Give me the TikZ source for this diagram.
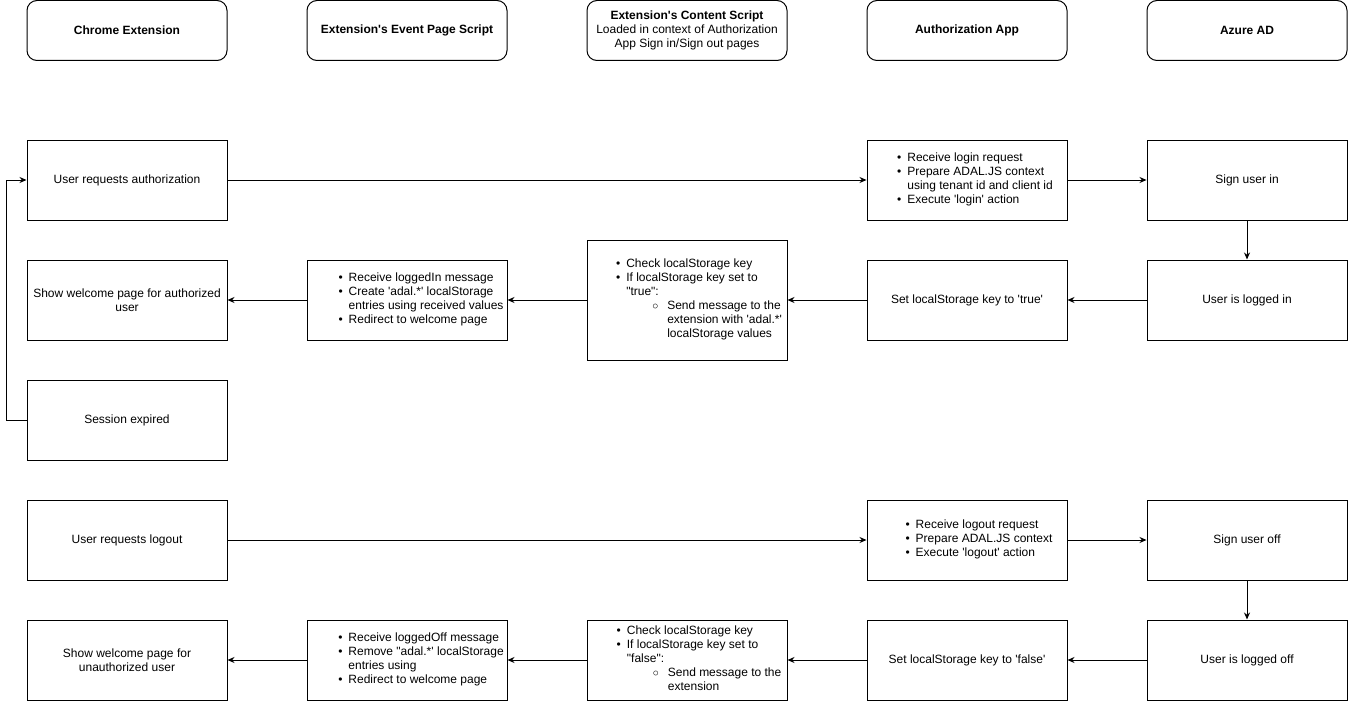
\documentclass[tikz,border=0pt]{standalone}
\usepackage{fontspec}
\setmainfont{Liberation Sans}[Ligatures=TeXOff]
\usetikzlibrary{arrows.meta}

\newcommand{\steplist}[2][20pt]{\begin{tabular}{@{\hspace{#1}}l@{\hspace{6pt}}l@{}}#2\end{tabular}}
\newcommand{\subitm}{\makebox[41pt][r]{$\circ$\hspace{9pt}}}
\newcommand{\subcont}{\hspace{41pt}}

\tikzset{
  lane/.style={draw, rounded corners=10pt, minimum width=200pt, minimum height=60pt, inner sep=0pt, align=center},
  stepbox/.style={draw, minimum width=200pt, minimum height=80pt, inner sep=0pt, align=center},
  flow/.style={-{Stealth[length=7pt,width=6pt]}},
  every node/.style={font=\fontsize{12}{14}\selectfont},
}

\begin{document}
\begin{tikzpicture}[x=1pt, y=-1pt, line width=1pt]
                \useasboundingbox (0,0) rectangle (1348,706);

                % Lanes
                \node[lane] (chrome) at (127,30.5) {\textbf{Chrome Extension}};
                \node[lane] (eventpg) at (407,30.5) {\textbf{Extension's Event Page Script}};
                \node[lane] (content) at (687,30.5) {\textbf{Extension's Content Script}\\Loaded in context of Authorization\\App Sign in/Sign out pages};
                \node[lane] (authapp) at (967,30.5) {\textbf{Authorization App}};
                \node[lane] (azure) at (1247,30.5) {\textbf{Azure AD}};

                % Login
                \node[stepbox] (req) at (127,180) {User requests authorization};
                \node[stepbox] (auth) at (967,180) {\steplist[16pt]{\textbullet & Receive login request\\
                  \textbullet & Prepare ADAL.JS context\\
                  & using tenant id and client id\\
                  \textbullet & Execute 'login' action}};
                \node[stepbox] (signin) at (1247,180) {Sign user in};
                \node[stepbox] (loggedin) at (1247,300) {User is logged in};
                \node[stepbox] (setkey) at (967,300) {Set localStorage key to 'true'};
                \node[stepbox, minimum height=120pt] (check) at (687,300) {\steplist[24pt]{\textbullet & Check localStorage key\\
                  \textbullet & If localStorage key set to\\
                  & "true":\\
                  & \subitm Send message to the\\
                  & \subcont extension with 'adal.*'\\
                  & \subcont localStorage values}};
                \node[stepbox] (recv) at (407,300) {\steplist[28pt]{\textbullet & Receive loggedIn message\\
                  \textbullet & Create 'adal.*' localStorage\\
                  & entries using received values\\
                  \textbullet & Redirect to welcome page}};
                \node[stepbox] (welcome) at (127,300) {Show welcome page for authorized\\user};
                \node[stepbox] (expired) at (127,420) {Session expired};

                % Logout
                \node[stepbox] (logout) at (127,540) {User requests logout};
                \node[stepbox] (authout) at (967,540) {\steplist[24pt]{\textbullet & Receive logout request\\
                  \textbullet & Prepare ADAL.JS context\\
                  \textbullet & Execute 'logout' action}};
                \node[stepbox] (signoff) at (1247,540) {Sign user off};
                \node[stepbox] (loggedoff) at (1247,660) {User is logged off};
                \node[stepbox] (setkeyoff) at (967,660) {Set localStorage key to 'false'};
                \node[stepbox] (checkoff) at (687,660) {\steplist[24pt]{\textbullet & Check localStorage key\\
                  \textbullet & If localStorage key set to\\
                  & "false":\\
                  & \subitm Send message to the\\
                  & \subcont extension}};
                \node[stepbox] (recvoff) at (407,660) {\steplist[28pt]{\textbullet & Receive loggedOff message\\
                  \textbullet & Remove "adal.*' localStorage\\
                  & entries using\\
                  \textbullet & Redirect to welcome page}};
                \node[stepbox] (welcomeoff) at (127,660) {Show welcome page for\\unauthorized user};

                % Arrows
                \draw[flow] (req) -- (auth);
                \draw[flow] (auth) -- (signin);
                \draw[flow] (signin) -- (loggedin);
                \draw[flow] (loggedin) -- (setkey);
                \draw[flow] (setkey) -- (check);
                \draw[flow] (check) -- (recv);
                \draw[flow] (recv) -- (welcome);
                \draw[flow] (expired.west) -- ++(-20,0) |- (req.west);

                \draw[flow] (logout) -- (authout);
                \draw[flow] (authout) -- (signoff);
                \draw[flow] (signoff) -- (loggedoff);
                \draw[flow] (loggedoff) -- (setkeyoff);
                \draw[flow] (setkeyoff) -- (checkoff);
                \draw[flow] (checkoff) -- (recvoff);
                \draw[flow] (recvoff) -- (welcomeoff);
\end{tikzpicture}
\end{document}
